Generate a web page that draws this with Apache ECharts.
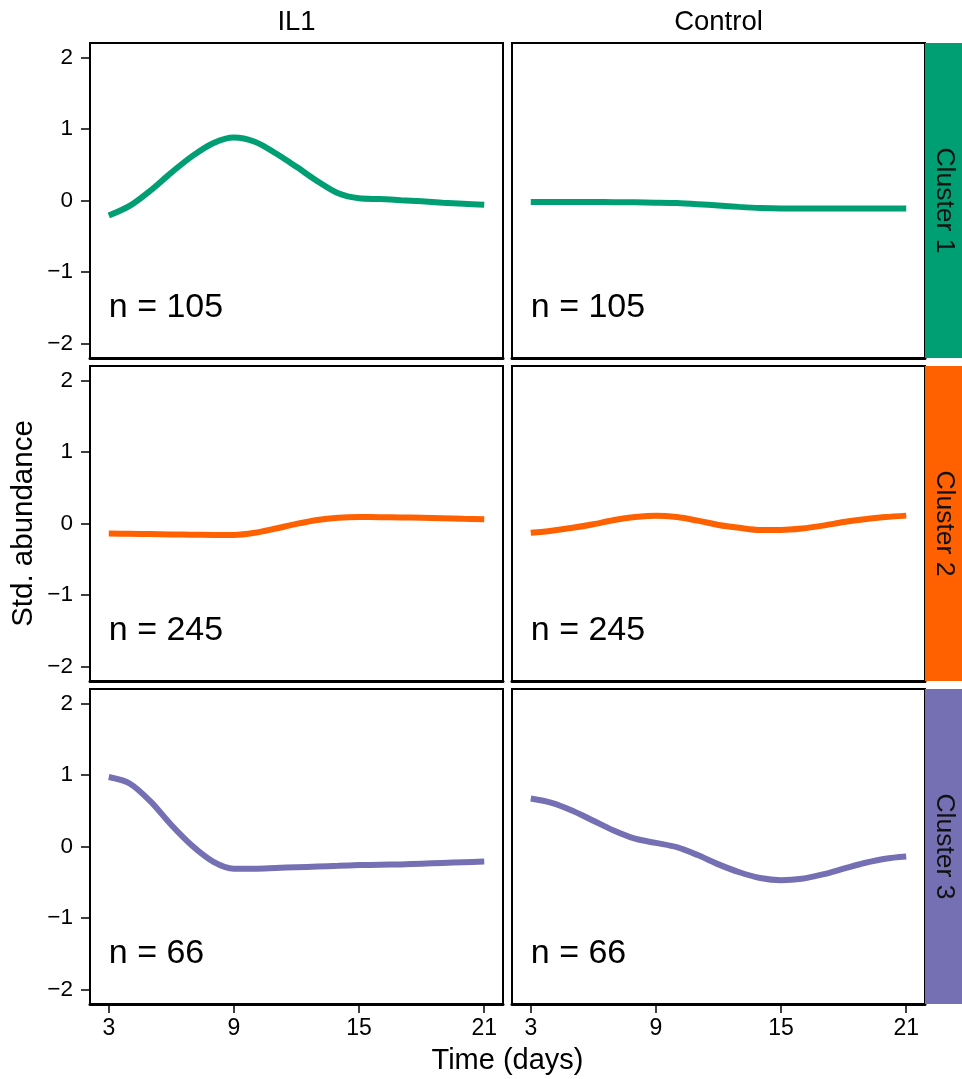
<!DOCTYPE html>
<html>
<head>
<meta charset="utf-8">
<script src="https://cdn.jsdelivr.net/npm/echarts@6/dist/echarts.min.js"></script>
<style>
  html, body { margin: 0; padding: 0; background: #fff; }
  #chart { width: 962px; height: 1079px; }
</style>
</head>
<body>
<div id="chart"></div>
<script>
// Facet labels
const conditions = ['IL1', 'Control'];
const clusters = ['Cluster 1', 'Cluster 2', 'Cluster 3'];
const clusterColors = ['#009E73', '#FF6000', '#7570B3'];
const nCounts = [105, 245, 66];

// Sampling days and tick labels
const days = [3, 4, 5, 6, 7, 8, 9, 10, 11, 12, 13, 14, 15, 16, 17, 18, 19, 20, 21];
const xTicks = [3, 9, 15, 21];
const yTicks = [-2, -1, 0, 1, 2];

// Standardised abundance per day
const il1Cluster1 = [-0.21, -0.075, 0.14, 0.39, 0.62, 0.80, 0.88, 0.82, 0.66, 0.47, 0.27, 0.10, 0.03, 0.02, 0.005, -0.01, -0.03, -0.045, -0.06];
const ctlCluster1 = [-0.02, -0.02, -0.02, -0.021, -0.023, -0.026, -0.03, -0.036, -0.051, -0.07, -0.089, -0.104, -0.11, -0.11, -0.11, -0.11, -0.11, -0.11, -0.11];
const il1Cluster2 = [-0.14, -0.144, -0.148, -0.152, -0.156, -0.159, -0.16, -0.13, -0.07, -0.005, 0.05, 0.08, 0.09, 0.089, 0.085, 0.08, 0.073, 0.066, 0.06];
const ctlCluster2 = [-0.13, -0.10, -0.06, -0.01, 0.05, 0.09, 0.11, 0.09, 0.04, -0.02, -0.06, -0.09, -0.09, -0.07, -0.03, 0.02, 0.06, 0.09, 0.11];
const il1Cluster3 = [0.97, 0.88, 0.63, 0.30, 0.01, -0.21, -0.31, -0.31, -0.30, -0.29, -0.28, -0.27, -0.26, -0.255, -0.25, -0.24, -0.23, -0.22, -0.21];
const ctlCluster3 = [0.67, 0.61, 0.50, 0.36, 0.22, 0.11, 0.05, -0.01, -0.12, -0.25, -0.36, -0.44, -0.47, -0.45, -0.39, -0.31, -0.23, -0.17, -0.14];

const panelValues = [
  [il1Cluster1, ctlCluster1],
  [il1Cluster2, ctlCluster2],
  [il1Cluster3, ctlCluster3]
];

const FONT = '"Liberation Sans", Arial, Helvetica, sans-serif';
const colLeft = [90, 512];
const panelW = 413;
const rowTop = [43, 366, 689];
const panelH = 315;
const stripX = 925;
const stripW = 37;

const grids = [], xAxes = [], yAxes = [], series = [], graphics = [];
const fmtMinus = v => (v < 0 ? '\u2212' + Math.abs(v) : String(v));

rowTop.forEach((top, r) => {
  colLeft.forEach((left, c) => {
    const idx = grids.length;
    const bottomRow = r === rowTop.length - 1;
    const leftCol = c === 0;
    grids.push({
      left: left, top: top, width: panelW, height: panelH,
      show: true, borderColor: '#000', borderWidth: 2, backgroundColor: '#fff'
    });
    xAxes.push({
      type: 'value', gridIndex: idx, min: 2.1, max: 21.9,
      splitLine: { show: false },
      axisLine: { show: true, onZero: false, lineStyle: { color: '#000', width: 3 } },
      axisTick: { show: bottomRow, length: 9, customValues: xTicks, lineStyle: { color: '#000', width: 1.5 } },
      axisLabel: {
        show: bottomRow, customValues: xTicks, margin: 13,
        fontFamily: FONT, fontSize: 23, color: '#000'
      }
    });
    yAxes.push({
      type: 'value', gridIndex: idx, min: -2.2, max: 2.2,
      splitLine: { show: false },
      axisLine: { show: false },
      axisTick: { show: leftCol, length: 9, customValues: yTicks, lineStyle: { color: '#000', width: 1.5 } },
      axisLabel: {
        show: leftCol, customValues: yTicks, margin: 17,
        fontFamily: FONT, fontSize: 22.5, color: '#000',
        formatter: fmtMinus
      }
    });
    series.push({
      type: 'line', xAxisIndex: idx, yAxisIndex: idx,
      data: days.map((d, i) => [d, panelValues[r][c][i]]),
      smooth: 0.3, showSymbol: false, symbol: 'none',
      lineStyle: { color: clusterColors[r], width: 6, cap: 'butt' },
      silent: true, z: 3
    });
    // count label anchored at day 3, value -1.5
    series.push({
      type: 'scatter', xAxisIndex: idx, yAxisIndex: idx,
      data: [[3, -1.5]], symbolSize: 0, silent: true,
      itemStyle: { opacity: 1 },
      label: {
        show: true, position: 'right', distance: 0,
        formatter: 'n = ' + nCounts[r],
        fontFamily: FONT, fontSize: 34, color: '#000', opacity: 1
      }
    });
  });

  // cluster strip on the right
  graphics.push({
    type: 'rect', shape: { x: stripX, y: top, width: stripW, height: panelH },
    style: { fill: clusterColors[r] }, z: 1
  });
  graphics.push({
    type: 'text', x: stripX + stripW / 2 + 1, y: top + panelH / 2, rotation: -Math.PI / 2,
    style: { text: clusters[r], fill: '#111', font: '26.5px ' + FONT, align: 'center', verticalAlign: 'middle' },
    z: 2
  });
});

// condition strip titles
conditions.forEach((name, c) => {
  graphics.push({
    type: 'text', x: colLeft[c] + panelW / 2, y: 22,
    style: { text: name, fill: '#000', font: '27.5px ' + FONT, align: 'center', verticalAlign: 'middle' }
  });
});

// axis titles
graphics.push({
  type: 'text', x: (colLeft[0] + colLeft[1] + panelW) / 2, y: 1061,
  style: { text: 'Time (days)', fill: '#000', font: '29px ' + FONT, align: 'center', verticalAlign: 'middle' }
});
graphics.push({
  type: 'text', x: 24, y: (rowTop[0] + rowTop[2] + panelH) / 2, rotation: Math.PI / 2,
  style: { text: 'Std. abundance', fill: '#000', font: '29.5px ' + FONT, align: 'center', verticalAlign: 'middle' }
});

const chart = echarts.init(document.getElementById('chart'), null, { renderer: 'canvas' });
chart.setOption({
  animation: false,
  backgroundColor: '#fff',
  grid: grids,
  xAxis: xAxes,
  yAxis: yAxes,
  series: series,
  graphic: graphics
});
</script>
</body>
</html>
